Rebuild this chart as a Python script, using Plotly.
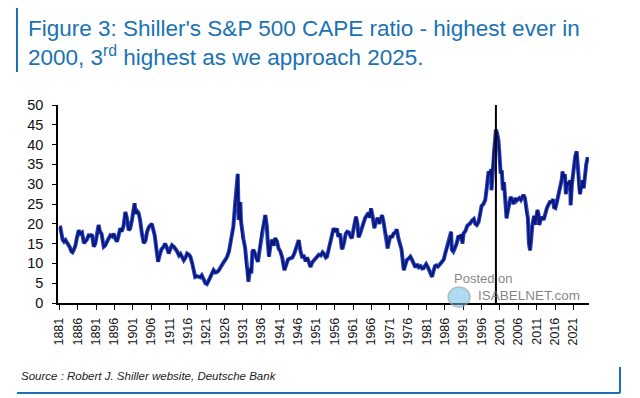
import plotly.graph_objects as go

# ---- data ----
dates = [
    1881.0, 1881.3, 1881.6, 1881.9, 1882.3, 1882.7, 1883.0, 1883.5, 1883.9, 1884.3,
    1884.6, 1885.0, 1885.4, 1885.8, 1886.3, 1886.7, 1887.2, 1887.7, 1888.1, 1888.5,
    1889.0, 1889.5, 1889.9, 1890.4, 1890.8, 1891.3, 1891.7, 1892.1, 1892.5, 1893.1,
    1893.5, 1894.0, 1894.5, 1894.9, 1895.4, 1895.8, 1896.3, 1896.7, 1897.1, 1897.6,
    1898.0, 1898.5, 1899.0, 1899.4, 1899.9, 1900.3, 1900.8, 1901.2, 1901.5, 1901.8,
    1902.2, 1902.6, 1903.0, 1903.5, 1904.0, 1904.5, 1904.9, 1905.4, 1905.8, 1906.2,
    1906.6, 1907.0, 1907.4, 1907.9, 1908.3, 1908.8, 1909.4, 1909.8,
    1910.3, 1910.8, 1911.3, 1911.7, 1912.2, 1912.6, 1913.1, 1913.6, 1914.0, 1914.4,
    1914.9, 1915.4, 1915.8, 1916.3, 1916.7, 1917.2, 1917.6, 1918.0, 1918.5, 1919.0,
    1919.4, 1919.8, 1920.3, 1920.8, 1921.2, 1921.7, 1922.1, 1922.6, 1923.0, 1923.5,
    1923.9, 1924.4, 1924.9, 1925.3, 1925.8, 1926.3, 1926.7, 1927.2, 1927.6, 1928.0,
    1928.4, 1928.9, 1929.2, 1929.6, 1929.85, 1930.1, 1930.3, 1930.5, 1930.9, 1931.2,
    1931.6, 1931.9, 1932.2, 1932.5, 1932.7, 1933.0, 1933.3, 1933.6, 1933.9, 1934.3,
    1934.7, 1935.1, 1935.5, 1935.9, 1936.2, 1936.6, 1937.1, 1937.5, 1937.8, 1938.1,
    1938.5, 1938.9, 1939.4, 1939.8, 1940.3, 1940.7, 1941.2, 1941.7, 1942.3, 1942.8,
    1943.3, 1943.9, 1944.5, 1945.0, 1945.6, 1946.2, 1946.7, 1947.1, 1947.6, 1948.1,
    1948.5, 1949.0, 1949.4, 1949.9, 1950.4, 1950.8, 1951.2, 1951.7, 1952.2, 1952.7,
    1953.0, 1953.6, 1953.9, 1954.4, 1954.9, 1955.3, 1955.7, 1956.1, 1956.6, 1957.0,
    1957.5, 1957.9, 1958.1, 1958.6, 1959.0, 1959.4, 1959.9, 1960.3, 1960.7, 1961.1,
    1961.5, 1961.8, 1962.2, 1962.5, 1962.9, 1963.4, 1963.9, 1964.3, 1964.8, 1965.2,
    1965.5, 1965.9, 1966.3, 1966.8, 1967.2, 1967.7, 1968.1, 1968.5, 1968.9, 1969.3,
    1969.7, 1970.1, 1970.4, 1970.8, 1971.2, 1971.6, 1972.0, 1972.5, 1972.9, 1973.3,
    1973.7, 1974.2, 1974.5, 1974.8, 1975.2, 1975.6, 1976.1, 1976.6, 1977.0, 1977.5,
    1978.0, 1978.5, 1978.9, 1979.4, 1979.8, 1980.2, 1980.6, 1980.9, 1981.4, 1981.9,
    1982.2, 1982.5, 1982.9, 1983.3, 1983.7, 1984.1, 1984.7, 1985.2, 1985.7, 1986.1,
    1986.6, 1987.0, 1987.4, 1987.7, 1987.9, 1988.3, 1988.7, 1989.2, 1989.7, 1990.1,
    1990.5, 1990.8, 1991.1, 1991.6, 1992.1, 1992.5, 1992.9, 1993.4, 1993.9, 1994.3,
    1994.7, 1995.2, 1995.6, 1996.0, 1996.5, 1997.0, 1997.4, 1997.9, 1998.3, 1998.6,
    1998.7, 1999.0, 1999.3, 1999.6, 1999.9, 2000.2, 2000.6, 2000.9, 2001.2, 2001.5,
    2001.8, 2002.1, 2002.5, 2002.8, 2003.2, 2003.5, 2003.9, 2004.3, 2004.7, 2005.1,
    2005.5, 2005.9, 2006.3, 2006.7, 2007.0, 2007.4, 2007.8, 2008.2, 2008.6, 2008.9,
    2009.2, 2009.5, 2009.8, 2010.3, 2010.6, 2010.9, 2011.2, 2011.5, 2011.7, 2012.1,
    2012.4, 2012.9, 2013.3, 2013.8, 2014.2, 2014.6, 2015.1, 2015.5, 2015.7, 2016.1,
    2016.5, 2016.9, 2017.3, 2017.8, 2018.05, 2018.3, 2018.7, 2018.95, 2019.3, 2019.7,
    2020.1, 2020.25, 2020.6, 2021.0, 2021.5, 2021.9, 2022.2, 2022.5, 2022.8, 2023.1,
    2023.5, 2023.8, 2024.1, 2024.5, 2024.9,
]
cape = [
    18.9, 19.0, 17.5, 16.0, 15.5, 15.9, 15.4, 14.8, 14.0, 13.0,
    12.8, 13.5, 14.5, 16.5, 18.4, 17.5, 17.8, 15.1, 15.6, 16.0,
    17.1, 17.0, 17.3, 14.2, 15.0, 17.0, 19.7, 18.0, 17.5, 14.2,
    14.5, 15.5, 16.5, 17.1, 16.8, 17.5, 16.2, 15.5, 16.8, 18.9,
    18.0, 19.5, 23.0, 21.5, 18.4, 18.8, 21.0, 23.5, 25.2, 22.5,
    23.2, 22.7, 21.0, 17.5, 15.1, 15.8, 18.0, 19.2, 19.7, 20.0,
    18.5, 17.0, 14.0, 10.4, 12.0, 13.5, 14.2, 15.0,
    14.0, 12.5, 13.8, 14.6, 14.2, 13.8, 13.0, 12.0, 12.4, 11.7,
    10.8, 11.5, 12.5, 12.2, 11.7, 10.0, 7.8, 6.6, 6.8, 6.6,
    6.5, 7.0, 6.0, 5.0, 4.8, 5.5, 6.5, 7.5, 8.3, 7.7,
    7.8, 8.2, 9.0, 9.6, 10.5, 10.8, 11.7, 13.0, 15.0, 17.5,
    19.3, 25.2, 27.5, 32.6, 21.0, 23.0, 25.5, 20.5, 16.5, 15.9,
    14.0, 9.5, 8.5, 5.4, 8.0, 8.8, 7.5, 13.0, 13.4, 12.5,
    11.0, 10.4, 13.0, 15.5, 18.4, 19.5, 22.2, 19.5, 15.0, 11.7,
    14.5, 16.0, 14.5, 16.4, 15.5, 13.8, 13.0, 11.5, 8.3, 9.5,
    11.0, 11.3, 11.5, 12.5, 14.0, 15.9, 13.0, 11.7, 11.8, 10.5,
    11.5, 10.0, 9.1, 10.3, 10.8, 11.2, 11.7, 12.2, 12.0, 12.8,
    12.5, 11.5, 11.7, 13.5, 15.5, 17.0, 18.9, 18.0, 18.8, 16.7,
    17.5, 14.0, 13.6, 15.5, 17.5, 18.0, 17.8, 16.8, 16.4, 18.5,
    20.5, 21.8, 20.0, 16.6, 17.5, 19.0, 20.0, 21.5, 22.2, 22.8,
    21.5, 23.9, 22.0, 18.9, 20.5, 21.5, 20.0, 21.0, 22.2, 20.5,
    18.0, 17.0, 13.8, 15.5, 17.0, 16.5, 17.5, 17.8, 18.6, 16.5,
    15.0, 13.5, 11.0, 8.3, 9.5, 10.8, 11.2, 11.7, 11.0, 10.0,
    9.0, 9.8, 9.0, 9.3, 8.7, 8.8, 9.5, 9.8, 9.0, 8.0,
    7.4, 6.6, 8.0, 9.3, 9.5, 9.2, 9.8, 10.4, 11.0, 12.5,
    14.0, 15.5, 16.5, 18.0, 13.5, 13.0, 13.8, 15.0, 17.0, 16.5,
    17.3, 15.0, 17.6, 18.2, 19.5, 19.8, 20.1, 20.8, 21.2, 20.0,
    19.7, 20.5, 22.5, 24.5, 25.0, 26.0, 29.0, 33.2, 32.5, 33.8,
    28.5, 34.0, 38.5, 40.5, 43.8, 43.0, 41.0, 37.5, 32.7, 33.5,
    28.5, 30.5, 26.0, 21.4, 23.5, 25.0, 26.8, 26.0, 25.0, 26.5,
    25.8, 26.2, 26.5, 26.0, 26.8, 27.3, 26.5, 23.0, 21.5, 15.0,
    13.3, 16.0, 19.5, 22.0, 19.8, 21.5, 23.5, 22.5, 19.7, 21.0,
    21.8, 21.0, 22.5, 24.0, 24.8, 25.5, 25.5, 26.2, 24.2, 24.0,
    25.5, 27.0, 28.5, 31.0, 33.2, 31.5, 32.5, 27.5, 30.5, 29.8,
    31.0, 24.7, 30.0, 34.0, 37.0, 38.3, 33.5, 29.0, 27.5, 29.5,
    31.0, 29.0, 32.5, 35.0, 36.8,
]
tick_years = list(range(1881, 2022, 5))
tick_labels = [str(y) for y in tick_years]
y_ticks = list(range(0, 51, 5))
marker_year = 1999.9

title_text = ("Figure 3: Shiller's S&P 500 CAPE ratio - highest ever in<br>"
              "2000, 3<sup>rd</sup> highest as we approach 2025.")
source_text = "Source : Robert J. Shiller website, Deutsche Bank"

# ---- layout geometry ----
# The page adds an 8 px body margin, so the figure is drawn 8 px smaller and
# every reference pixel position is shifted by OFF.
OFF = 8
W, H = 640 - OFF, 398 - OFF
PLOT_L, PLOT_R, PLOT_T, PLOT_B = 58, 589, 105, 303   # reference pixels
L, R = PLOT_L - OFF, W - (PLOT_R - OFF)
T, B = PLOT_T - OFF, H - (PLOT_B - OFF)
PW, PH = PLOT_R - PLOT_L, PLOT_B - PLOT_T


def px(x):
    return (x - PLOT_L) / PW


def py(y):
    return (PLOT_B - y) / PH


BLUE = "#1a72b4"

fig = go.Figure()
fig.add_trace(go.Scatter(x=dates, y=cape, mode="lines",
                         line=dict(color="#2a47c4", width=4.0),
                         hoverinfo="skip", showlegend=False))
fig.add_trace(go.Scatter(x=dates, y=cape, mode="lines",
                         line=dict(color="#0b1678", width=2.0),
                         showlegend=False))

shapes = [
    # vertical marker line at the 2000 peak
    dict(type="line", xref="x", yref="y", x0=marker_year, x1=marker_year,
         y0=0, y1=50, line=dict(color="black", width=2)),
    # frame
    dict(type="line", xref="paper", yref="paper", x0=px(17), x1=px(620),
         y0=py(5), y1=py(5), line=dict(color=BLUE, width=2)),
    dict(type="line", xref="paper", yref="paper", x0=px(17), x1=px(17),
         y0=py(5), y1=py(72), line=dict(color=BLUE, width=2)),
    dict(type="line", xref="paper", yref="paper", x0=px(17), x1=px(620),
         y0=py(393), y1=py(393), line=dict(color=BLUE, width=2)),
    dict(type="line", xref="paper", yref="paper", x0=px(620), x1=px(620),
         y0=py(367), y1=py(393), line=dict(color=BLUE, width=2)),
    # watermark logo
    dict(type="circle", xref="paper", yref="paper", x0=px(448), x1=px(470),
         y0=py(287), y1=py(307), fillcolor="rgba(110,190,230,0.55)",
         line=dict(color="rgba(160,160,160,0.6)", width=1.5)),
]

annotations = [
    dict(text=title_text, xref="paper", yref="paper", x=px(26), y=py(14),
         xanchor="left", yanchor="top", align="left", showarrow=False,
         font=dict(family="Liberation Sans Narrow, Arial Narrow, sans-serif",
                   size=22.5, color=BLUE)),
    dict(text="<i>" + source_text + "</i>", xref="paper", yref="paper",
         x=px(19), y=py(376), xanchor="left", yanchor="middle", showarrow=False,
         font=dict(family="Liberation Sans, Arial, sans-serif", size=11.5,
                   color="#222222")),
    dict(text="Posted on", xref="paper", yref="paper", x=px(452), y=py(278),
         xanchor="left", yanchor="middle", showarrow=False,
         font=dict(family="Liberation Sans, Arial, sans-serif", size=13,
                   color="rgba(110,110,110,0.85)")),
    dict(text="ISABELNET.com", xref="paper", yref="paper", x=px(476), y=py(295),
         xanchor="left", yanchor="middle", showarrow=False,
         font=dict(family="Liberation Sans, Arial, sans-serif", size=13.5,
                   color="rgba(110,110,110,0.85)")),
]

fig.update_layout(
    width=W, height=H,
    margin=dict(l=L, r=R, t=T, b=B, pad=0),
    paper_bgcolor="white", plot_bgcolor="white",
    shapes=shapes, annotations=annotations,
    font=dict(family="Liberation Sans, Arial, sans-serif", color="#111111"),
    xaxis=dict(range=[1880.65, 2025.25], tickmode="array", tickvals=tick_years,
               ticktext=tick_labels, tickangle=-90, showgrid=False,
               zeroline=False, showline=True, linecolor="black", linewidth=1.5,
               ticks="outside", ticklen=5, tickcolor="black", tickwidth=1.2,
               tickfont=dict(size=12.5), ticklabelstandoff=3),
    yaxis=dict(range=[0, 50], tickmode="array", tickvals=y_ticks,
               showgrid=False, zeroline=False, showline=True, linecolor="black",
               linewidth=1.5, ticks="outside", ticklen=4, tickcolor="black",
               tickwidth=1.2, tickfont=dict(size=14.5), ticklabelstandoff=6),
)

fig.write_html("out.html")
